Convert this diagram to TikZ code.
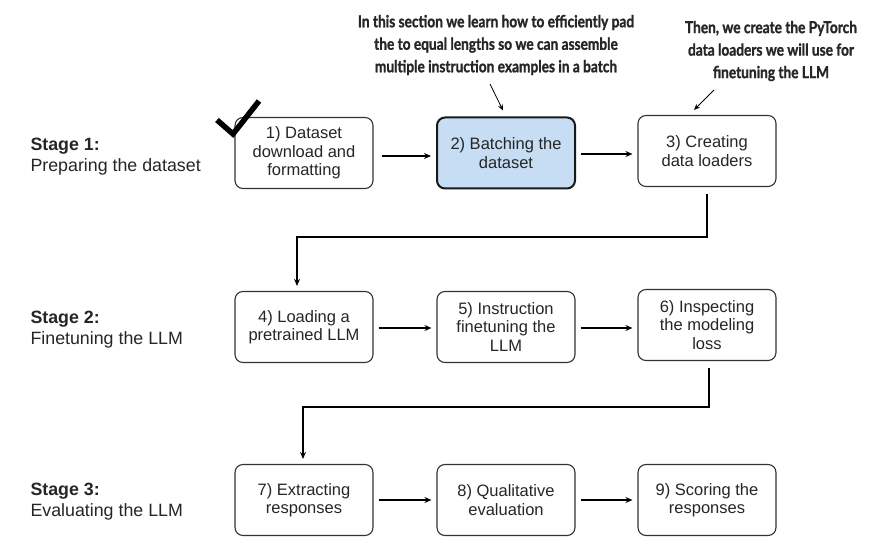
\documentclass[tikz,border=0pt]{standalone}
\usepackage{fontspec}
\setmainfont{Liberation Sans}
\newfontfamily\notefont[FakeStretch=0.83,FakeBold=1.2]{Lato}
\usetikzlibrary{arrows.meta,calc}
\definecolor{boxblue}{HTML}{C6DDF3}
\definecolor{edge}{HTML}{333333}
\begin{document}
\begin{tikzpicture}[x=1pt,y=-1pt,
  stepbox/.style={draw=edge,line width=1.1pt,rounded corners=8pt,minimum width=138pt,minimum height=71pt,align=center,font=\fontsize{16.5}{18.5}\selectfont,text=black!85,inner sep=2pt},
  hl/.style={fill=boxblue,draw=black!90,line width=2pt},
  conn/.style={line width=1.3pt,-{Stealth[length=7pt,width=6pt]}},
  thinarr/.style={line width=0.8pt,-{Stealth[length=6pt,width=5pt]}},
  stagelbl/.style={anchor=west,align=left,font=\fontsize{17.8}{21}\selectfont,text=black!85},
  note/.style={align=center,font=\notefont\bfseries\fontsize{16.5}{22.5}\selectfont,text=black!85}]
\useasboundingbox (0,0) rectangle (876,553);
\fill[white] (0,0) rectangle (876,553);
% stage labels
\node[stagelbl] (s1) at (27,157) {\textbf{Stage 1:}\\Preparing the dataset};
\node[stagelbl] (s2) at (27,330) {\textbf{Stage 2:}\\Finetuning the LLM};
\node[stagelbl] (s3) at (27,502) {\textbf{Stage 3:}\\Evaluating the LLM};
% boxes
\node[stepbox] (b1) at (304,153) {1) Dataset\\download and\\formatting};
\node[stepbox,hl] (b2) at (506,153) {2) Batching the\\dataset};
\node[stepbox] (b3) at (707,151) {3) Creating\\data loaders};
\node[stepbox] (b4) at (304,327) {4) Loading a\\pretrained LLM};
\node[stepbox] (b5) at (506,327) {5) Instruction\\finetuning the\\LLM};
\node[stepbox] (b6) at (707,325) {6) Inspecting\\the modeling\\loss};
\node[stepbox] (b7) at (304,500) {7) Extracting\\responses};
\node[stepbox] (b8) at (506,500) {8) Qualitative\\evaluation};
\node[stepbox] (b9) at (707,500) {9) Scoring the\\responses};
% horizontal arrows
\draw[conn] ($(b1.east)+(8,3)$) -- ($(b2.west)+(-5,3)$);
\draw[conn] ($(b2.east)+(5,1)$) -- ($(b3.west)+(-5,3)$);
\draw[conn] ($(b4.east)+(5,1)$) -- ($(b5.west)+(-5,1)$);
\draw[conn] ($(b5.east)+(5,1)$) -- ($(b6.west)+(-5,3)$);
\draw[conn] ($(b7.east)+(5,0)$) -- ($(b8.west)+(-5,0)$);
\draw[conn] ($(b8.east)+(5,0)$) -- ($(b9.west)+(-5,0)$);
% stage connectors
\draw[conn] ($(b3.south)+(0,7)$) |- (297,237) -- ($(b4.north -| 297,0)+(0,-5)$);
\draw[conn] ($(b6.south)+(2,7)$) |- (303,407) -- ($(b7.north -| 303,0)+(0,-5)$);
% notes
\node[note] (n1) at (496,45) {In this section we learn how to efficiently pad\\the to equal lengths so we can assemble\\multiple instruction examples in a batch};
\node[note] (n2) at (771,51) {Then, we create the PyTorch\\data loaders we will use for\\finetuning the LLM};
\coordinate (n1e) at (490,84);
\coordinate (n2e) at (714,90);
\draw[thinarr] (n1e) -- ($(b2.north)+(-3,-6)$);
\draw[thinarr] (n2e) -- ($(b3.north)+(-13,-5)$);
% checkmark
\draw[line width=5.5pt,line cap=butt,line join=miter] (217,120) -- (233,134) -- (259,101);
\end{tikzpicture}
\end{document}
